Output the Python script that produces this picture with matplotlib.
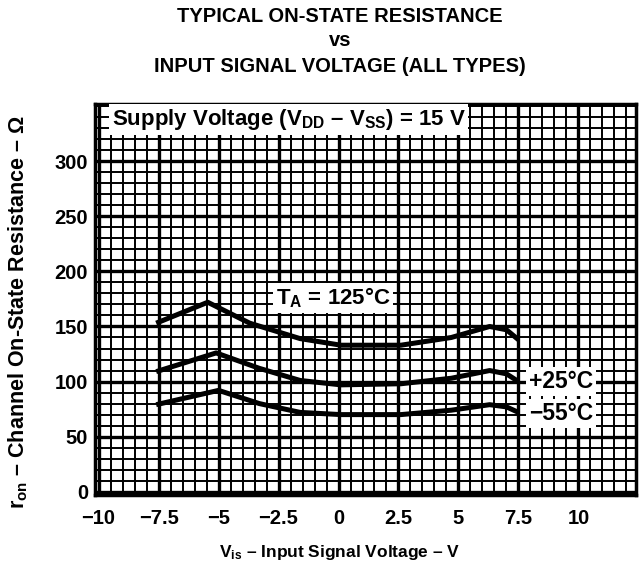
import numpy as np
import matplotlib
matplotlib.use('Agg')
import matplotlib.pyplot as plt

plt.rcParams['font.family'] = ['Liberation Sans', 'DejaVu Sans']
plt.rcParams['font.weight'] = 'bold'
plt.rcParams['mathtext.fontset'] = 'custom'
plt.rcParams['mathtext.rm'] = 'Liberation Sans:bold'
plt.rcParams['mathtext.it'] = 'Liberation Sans:bold'
plt.rcParams['mathtext.bf'] = 'Liberation Sans:bold'

# curves (V, ohms)
v_125 = [-7.6, -5.45, -3.7, -1.6, 0.1, 2.6, 4.7, 6.3, 7.0, 7.5]
r_125 = [153, 172, 153, 139, 133, 133, 140, 150, 147, 138]
v_25 = [-7.6, -5.1, -3.3, -1.6, 0.1, 2.6, 4.7, 6.3, 7.0, 7.5]
r_25 = [109, 126, 112, 101, 97, 98, 103, 110, 107, 100]
v_m55 = [-7.6, -5.0, -3.3, -1.6, 0.1, 2.6, 4.7, 6.3, 7.0, 7.5]
r_m55 = [79, 92, 80, 72, 70, 70, 74, 79, 77, 72]

x_ticks = [-10, -7.5, -5, -2.5, 0, 2.5, 5, 7.5, 10]
x_labels = ['\u221210', '\u22127.5', '\u22125', '\u22122.5', '0', '2.5', '5', '7.5', '10']
y_ticks = [0, 50, 100, 150, 200, 250, 300]

fig = plt.figure(figsize=(6.41, 5.73), dpi=100)
ax = fig.add_axes([95 / 641, 1 - 495 / 573, 541 / 641, 391 / 573])
ax.set_xlim(-10.15, 12.4)
ax.set_ylim(-3, 352)

# dense datasheet grid
ax.set_xticks(x_ticks)
ax.set_xticklabels(x_labels)
ax.set_yticks(y_ticks)
ax.set_xticks(np.arange(-10, 12.5, 0.5), minor=True)
ax.set_yticks(np.arange(0, 351, 10), minor=True)
ax.grid(which='minor', color='black', linewidth=1.4)
ax.grid(which='major', color='black', linewidth=2.4)
ax.set_axisbelow(True)
ax.tick_params(which='both', length=0, labelsize=14.5)
ax.tick_params(axis='x', pad=10)
ax.tick_params(axis='y', pad=5)
for s in ax.spines.values():
    s.set_linewidth(2.5)

ax.plot(v_125, r_125, color='black', linewidth=3.6, solid_capstyle='butt')
ax.plot(v_25, r_25, color='black', linewidth=3.6, solid_capstyle='butt')
ax.plot(v_m55, r_m55, color='black', linewidth=3.6, solid_capstyle='butt')

box = dict(facecolor='white', edgecolor='none', pad=2)
ax.text(-9.45, 338, 'Supply Voltage (V$_{DD}$ \u2013 V$_{SS}$) = 15 V', fontsize=16,
        fontweight='bold', va='center', ha='left', bbox=box)
ax.text(-2.6, 176, 'T$_{A}$ = 125\u00b0C', fontsize=16, fontweight='bold',
        va='center', ha='left', bbox=box)
ax.text(7.95, 100, '+25\u00b0C', fontsize=16.5, fontweight='bold', va='center', ha='left', bbox=box)
ax.text(7.95, 71, '\u221255\u00b0C', fontsize=16.5, fontweight='bold', va='center', ha='left', bbox=box)

fig.text(340 / 641, 1 - 17 / 573, 'TYPICAL ON-STATE RESISTANCE', fontsize=14.5,
         fontweight='bold', ha='center', va='center')
fig.text(340 / 641, 1 - 41 / 573, 'vs', fontsize=14.5, fontweight='bold', ha='center', va='center')
fig.text(340 / 641, 1 - 66 / 573, 'INPUT SIGNAL VOLTAGE (ALL TYPES)', fontsize=14.5,
         fontweight='bold', ha='center', va='center')

fig.text(340 / 641, 1 - 552 / 573, 'V$_{is}$ \u2013 Input Signal Voltage \u2013 V', fontsize=12.5,
         fontweight='bold', ha='center', va='center')
fig.text(18 / 641, 1 - 312 / 573, 'r$_{on}$ \u2013 Channel On-State Resistance \u2013 \u03a9',
         fontsize=15.5, fontweight='bold', ha='center', va='center', rotation=90)

fig.savefig('out.png', dpi=100)
